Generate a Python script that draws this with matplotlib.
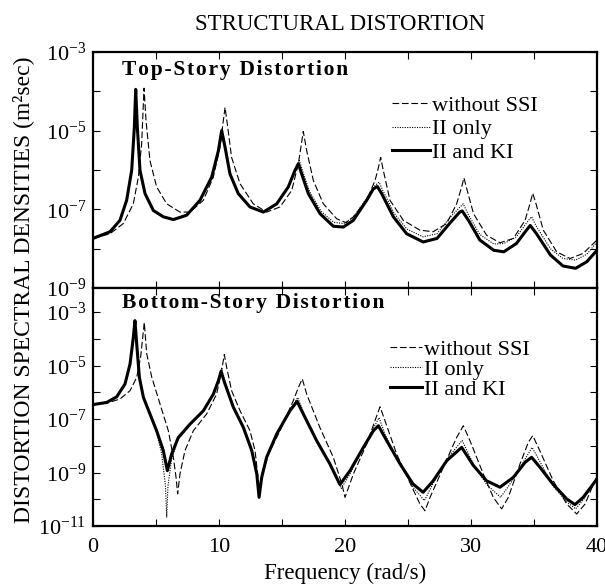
import numpy as np
import matplotlib
matplotlib.use("Agg")
import matplotlib.pyplot as plt
from matplotlib.ticker import FixedLocator, NullFormatter, MultipleLocator

plt.rcParams['font.family'] = ['Liberation Serif', 'DejaVu Serif']
plt.rcParams['mathtext.fontset'] = 'custom'
plt.rcParams['mathtext.rm'] = 'Liberation Serif'
plt.rcParams['mathtext.it'] = 'Liberation Serif:italic'

# ---- data: frequency (rad/s) and log10 of PSD ----
# top-story, "II and KI"
top_kk_f = [0.0, 1.35, 2.14, 2.67, 3.07, 3.28, 3.39, 3.52, 3.73, 4.13, 4.79, 5.58, 6.38,
            7.43, 8.49, 9.42, 9.95, 10.21, 10.48, 10.87, 11.53, 12.46, 13.52, 14.58,
            15.50, 16.03, 16.30, 16.56, 17.09, 18.02, 19.07, 19.87, 20.66, 21.72, 22.25,
            22.57, 22.91, 23.84, 24.89, 26.2, 27.3, 28.3, 29.1, 29.3, 29.8, 30.7, 31.8,
            32.6, 33.6, 34.4, 34.7, 35.2, 36.3, 37.3, 38.3, 39.2, 40.0]
top_kk_log = [-7.74, -7.57, -7.28, -6.77, -6.01, -4.92, -3.95, -4.92, -6.01, -6.60, -7.03,
              -7.19, -7.26, -7.15, -6.77, -6.18, -5.51, -5.00, -5.42, -6.10, -6.60, -6.94,
              -7.07, -6.86, -6.43, -6.01, -5.84, -6.10, -6.60, -7.11, -7.43, -7.45, -7.28,
              -6.77, -6.48, -6.42, -6.60, -7.19, -7.62, -7.83, -7.74, -7.36, -7.07, -7.04,
              -7.28, -7.78, -8.04, -8.08, -7.87, -7.53, -7.41, -7.62, -8.16, -8.44, -8.50,
              -8.33, -8.04]

# top-story, "II only"
top_ii_f = [0.0, 1.35, 2.14, 2.67, 3.07, 3.28, 3.39, 3.52, 3.73, 4.13, 4.79, 5.58, 6.38,
            7.43, 8.49, 9.42, 9.95, 10.25, 10.52, 10.9, 11.53, 12.46, 13.6, 14.6,
            15.50, 16.05, 16.38, 16.65, 17.2, 18.1, 19.1, 19.9, 20.66, 21.72, 22.3,
            22.7, 23.0, 23.9, 24.9, 26.2, 27.3, 28.3, 29.1, 29.38, 29.8, 30.7, 31.8,
            32.6, 33.6, 34.4, 34.8, 35.2, 36.3, 37.3, 38.3, 39.2, 40.0]
top_ii_log = [-7.74, -7.57, -7.28, -6.77, -6.01, -4.92, -3.95, -4.92, -6.01, -6.60, -7.03,
              -7.19, -7.24, -7.13, -6.77, -6.18, -5.48, -4.95, -5.40, -6.08, -6.60, -6.94,
              -7.07, -6.86, -6.43, -5.98, -5.76, -6.04, -6.55, -7.05, -7.33, -7.36, -7.20,
              -6.72, -6.42, -6.31, -6.52, -7.10, -7.50, -7.70, -7.62, -7.22, -6.95, -6.86,
              -7.14, -7.64, -7.88, -7.87, -7.70, -7.35, -7.19, -7.44, -8.00, -8.25, -8.29,
              -8.14, -7.83]

# top-story, "without SSI"
top_no_f = [0.0, 1.35, 2.41, 3.2, 3.6, 3.86, 4.05, 4.21, 4.52, 5.05, 5.85, 6.9, 7.7, 8.76,
            9.55, 10.08, 10.34, 10.48, 10.66, 11.0, 11.67, 12.72, 13.78, 14.84, 15.77,
            16.3, 16.69, 16.96, 17.49, 18.28, 19.34, 20.1, 20.66, 21.72, 22.38, 22.6,
            22.83, 23.04, 23.57, 24.63, 25.95, 27.0, 28.07, 28.86, 29.26, 29.44, 29.7,
            30.2, 31.24, 32.3, 33.36, 34.29, 34.68, 34.9, 35.16, 35.74, 36.8, 37.86,
            38.9, 40.0]
top_no_log = [-7.74, -7.62, -7.36, -6.86, -6.18, -5.34, -3.92, -4.75, -5.76, -6.43, -6.86,
              -7.07, -7.07, -6.77, -6.18, -5.42, -4.75, -4.41, -4.83, -5.68, -6.35, -6.86,
              -7.07, -6.94, -6.52, -5.84, -5.02, -5.51, -6.27, -6.86, -7.24, -7.34, -7.19,
              -6.77, -6.27, -6.01, -5.68, -6.01, -6.77, -7.28, -7.53, -7.57, -7.36, -6.86,
              -6.43, -6.20, -6.52, -7.11, -7.66, -7.85, -7.74, -7.28, -6.86, -6.59, -6.86,
              -7.53, -8.08, -8.25, -8.12, -7.78]

# bottom-story, "II and KI"
bot_kk_f = [0.0, 1.08, 1.88, 2.54, 2.94, 3.2, 3.33, 3.47, 3.68, 4.0, 4.52, 5.05, 5.58, 5.9,
            6.24, 6.77, 7.7, 8.76, 9.55, 9.95, 10.16, 10.48, 11.14, 11.93, 12.6, 13.0,
            13.18, 13.39, 13.78, 14.58, 15.63, 16.2, 16.69, 17.75, 18.8, 19.6, 20.4,
            21.46, 22.25, 22.65, 23.31, 24.37, 25.4, 26.2, 27.0, 28.07, 29.26, 30.19,
            31.24, 32.3, 33.36, 34.29, 34.81, 35.48, 36.5, 37.6, 38.25, 38.9, 40.0]
bot_kk_log = [-6.46, -6.38, -6.17, -5.69, -4.94, -3.95, -3.32, -4.20, -5.44, -6.19, -6.81,
              -7.44, -8.18, -8.93, -8.31, -7.69, -7.19, -6.69, -6.07, -5.57, -5.22, -5.69,
              -6.56, -7.31, -8.18, -9.06, -9.93, -9.18, -8.43, -7.56, -6.69, -6.34, -6.81,
              -7.81, -8.68, -9.45, -8.93, -8.06, -7.44, -7.25, -7.81, -8.68, -9.43, -9.74,
              -9.31, -8.56, -8.06, -8.74, -9.31, -9.55, -9.18, -8.62, -8.43, -8.81, -9.43,
              -9.99, -10.20, -9.93, -9.24]

# bottom-story, "II only"
bot_ii_f = [0.0, 1.08, 1.88, 2.54, 2.94, 3.2, 3.33, 3.47, 3.68, 4.0, 4.52, 5.05, 5.45, 5.75,
            5.85, 5.95, 6.24, 6.77, 7.7, 8.76, 9.55, 9.95, 10.2, 10.5, 11.14, 11.93, 12.6,
            13.0, 13.18, 13.39, 13.78, 14.58, 15.63, 16.25, 16.75, 17.75, 18.8, 19.7,
            20.45, 21.46, 22.25, 22.7, 23.2, 24.37, 25.4, 26.3, 27.0, 28.07, 29.3, 30.2,
            31.24, 32.35, 33.36, 34.29, 34.85, 35.48, 36.5, 37.6, 38.3, 38.95, 40.0]
bot_ii_log = [-6.46, -6.38, -6.17, -5.69, -4.94, -3.95, -3.32, -4.20, -5.44, -6.19, -6.81,
              -7.50, -8.30, -9.50, -10.68, -9.50, -8.50, -7.75, -7.22, -6.70, -6.05, -5.50,
              -5.10, -5.65, -6.50, -7.30, -8.18, -9.06, -9.93, -9.18, -8.43, -7.56, -6.65,
              -6.20, -6.80, -7.80, -8.70, -9.60, -9.00, -8.06, -7.35, -6.95, -7.60, -8.70,
              -9.55, -10.05, -9.40, -8.50, -7.80, -8.70, -9.45, -9.93, -9.25, -8.50, -8.06,
              -8.60, -9.50, -10.10, -10.36, -10.00, -9.20]

# bottom-story, "without SSI"
bot_no_f = [0.0, 1.08, 2.14, 2.94, 3.47, 3.78, 4.0, 4.07, 4.26, 4.66, 5.32, 5.98, 6.38, 6.59,
            6.72, 6.9, 7.3, 7.96, 9.02, 9.81, 10.21, 10.42, 10.61, 11.0, 11.67, 12.46,
            12.86, 13.07, 13.18, 13.39, 13.92, 14.84, 15.9, 16.3, 16.61, 16.96, 18.0,
            19.07, 19.75, 20.0, 20.66, 21.72, 22.38, 22.78, 23.17, 24.1, 25.2, 25.95,
            26.35, 26.75, 27.8, 28.86, 29.39, 29.92, 30.98, 31.77, 32.43, 32.96, 33.89,
            34.55, 34.9, 35.34, 36.53, 37.6, 38.39, 39.05, 40.0]
bot_no_log = [-6.46, -6.41, -6.25, -5.94, -5.44, -4.69, -3.70, -3.39, -4.55, -5.43, -6.44,
              -7.44, -8.44, -9.18, -9.80, -9.06, -8.18, -7.44, -6.81, -6.07, -5.19, -4.59,
              -5.07, -5.94, -6.69, -7.44, -8.18, -9.06, -9.87, -9.18, -8.31, -7.44, -6.31,
              -5.82, -5.50, -6.07, -7.31, -8.43, -9.43, -9.93, -9.06, -7.93, -7.06, -6.54,
              -7.06, -8.31, -9.43, -10.18, -10.43, -9.93, -8.81, -7.69, -7.25, -7.81, -9.06,
              -9.93, -10.36, -9.93, -8.68, -7.87, -7.62, -8.06, -9.31, -10.18, -10.55,
              -10.18, -9.12]

labels = ['without SSI', 'II only', 'II and KI']
styles = [dict(color='black', lw=0.8, ls=(0, (6, 2.5))),
          dict(color='black', lw=0.8, ls=(0, (1, 1.2))),
          dict(color='black', lw=2.2, ls='-')]

W, H = 605, 584
fig = plt.figure(figsize=(W / 100, H / 100), dpi=100)
L, R = 93 / W, 597 / W
ax1 = fig.add_axes([L, 1 - 288 / H, R - L, (288 - 52) / H])
ax2 = fig.add_axes([L, 1 - 526 / H, R - L, (526 - 288) / H])


def pw(a):
    return 10.0 ** np.array(a)


def spaced(s):
    # letter-spaced bold panel titles, as in the scanned original
    return '\u200a'.join(s)


top = [(top_no_f, top_no_log), (top_ii_f, top_ii_log), (top_kk_f, top_kk_log)]
bot = [(bot_no_f, bot_no_log), (bot_ii_f, bot_ii_log), (bot_kk_f, bot_kk_log)]

for ax, curves in ((ax1, top), (ax2, bot)):
    for (f, v), lab, st in zip(curves, labels, styles):
        ax.plot(f, pw(v), label=lab, **st)
    ax.set_yscale('log')
    ax.set_xlim(0, 40)
    ax.xaxis.set_major_locator(MultipleLocator(10))
    ax.xaxis.set_minor_locator(MultipleLocator(5))
    ax.tick_params(which='both', direction='in', top=True, right=True,
                   labelsize=16, width=0.8, length=5)
    ax.tick_params(axis='y', pad=5)
    for s in ax.spines.values():
        s.set_linewidth(1.6)

ax1.set_ylim(1e-9, 1e-3)
ax1.yaxis.set_major_locator(FixedLocator([1e-9, 1e-7, 1e-5, 1e-3]))
ax1.yaxis.set_minor_locator(FixedLocator([1e-8, 1e-6, 1e-4]))
ax1.set_yticklabels([r'$10^{-9}$', r'$10^{-7}$', r'$10^{-5}$', r'$10^{-3}$'])
ax1.yaxis.set_minor_formatter(NullFormatter())
ax1.tick_params(axis='x', labelbottom=False)

ax2.set_ylim(1e-11, 10 ** -2.1)
ax2.yaxis.set_major_locator(FixedLocator([1e-11, 1e-9, 1e-7, 1e-5, 1e-3]))
ax2.yaxis.set_minor_locator(FixedLocator([1e-10, 1e-8, 1e-6, 1e-4]))
ax2.set_yticklabels([r'$10^{-11}$', r'$10^{-9}$', r'$10^{-7}$', r'$10^{-5}$', r'$10^{-3}$'])
ax2.yaxis.set_minor_formatter(NullFormatter())
ax2.set_xticks([0, 10, 20, 30, 40])
ax2.set_xticklabels(['0', '10', '20', '30', '40'])
ax2.tick_params(axis='x', pad=9)
ax2.set_xlabel('Frequency (rad/s)', fontsize=16.5, labelpad=4)

ax1.text(0.058, 0.925, spaced('Top-Story Distortion'), transform=ax1.transAxes,
         fontsize=15.5, fontweight='bold', va='center', ha='left')
ax2.text(0.058, 0.935, spaced('Bottom-Story Distortion'), transform=ax2.transAxes,
         fontsize=15.5, fontweight='bold', va='center', ha='left')

leg_kw = dict(loc='upper left', frameon=False, fontsize=16, handletextpad=0.1,
              borderpad=0, borderaxespad=0)
ax1.legend(bbox_to_anchor=(0.593, 0.815), handlelength=1.7, labelspacing=0.12, **leg_kw)
ax2.legend(bbox_to_anchor=(0.589, 0.785), handlelength=1.45, labelspacing=-0.02, **leg_kw)

fig.text(340 / W, 1 - 25 / H, 'STRUCTURAL DISTORTION', fontsize=16.5, ha='center', va='center')
fig.text(23 / W, 1 - 290 / H, 'DISTORTION SPECTRAL DENSITIES (m\u00b2sec)', fontsize=17,
         rotation=90, ha='center', va='center')

fig.savefig('out.png', dpi=100)
